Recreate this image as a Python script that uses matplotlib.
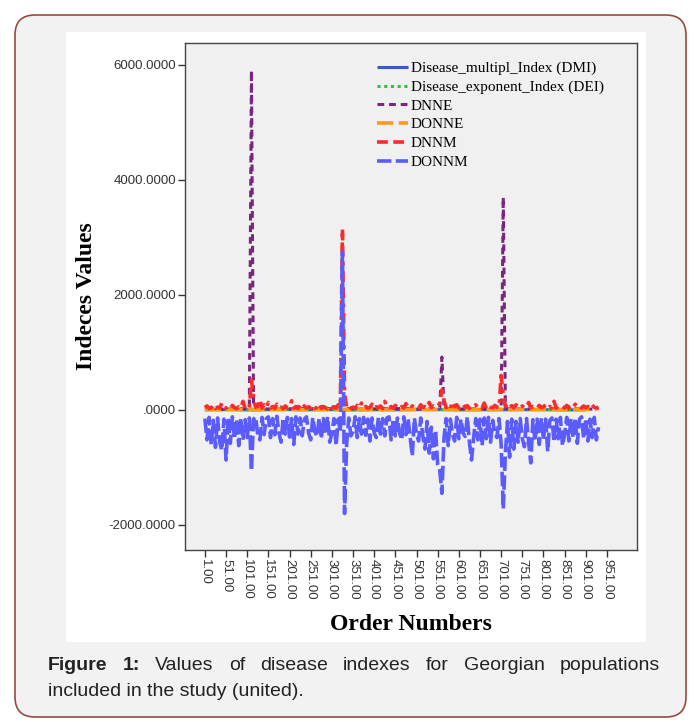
import matplotlib
matplotlib.use('Agg')
import matplotlib.pyplot as plt
from matplotlib.patches import FancyBboxPatch, Rectangle

# ---------------------------------------------------------------- data
order_step5 = list(range(1, 932, 5))          # 187 order numbers

donnm = [-150, -520, -130, -600, -180, -650, -140, -560, -700, -160,
         -870, -130, -580, -120, -500, -160, -620, -140, -520, -170,
         -480, -140, -1060, -160, -120, -450, -520, -130, -430, -150,
         -120, -480, -150, -430, -110, -400, -560, -140, -420, -130,
         -470, -150, -600, -120, -420, -140, -450, -160, -120, -400,
         -520, -130, -380, -460, -140, -500, -150, -420, -120, -560,
         -400, -150, -620, -160, -380, 2750, -1800, -580, -140, -450,
         -380, -120, -480, -150, -420, -130, -440, -160, -540, -140,
         -400, -480, -130, -420, -150, -450, -140, -120, -520, -160,
         -450, -140, -400, -520, -120, -430, -150, -470, -800, -140,
         -420, -540, -140, -460, -680, -200, -750, -300, -850, -350,
         -950, -1050, -1450, -480, -150, -620, -160, -420, -540, -130,
         -500, -160, -400, -460, -120, -560, -870, -480, -150, -520,
         -160, -620, -140, -500, -130, -560, -180, -400, -480, -150,
         -600, -1720, -750, -200, -820, -160, -680, -200, -560, -150,
         -500, -640, -150, -580, -920, -170, -540, -160, -600, -140,
         -520, -160, -720, -180, -140, -560, -160, -500, -130, -620,
         -420, -130, -540, -150, -480, -140, -580, -160, -120, -500,
         -150, -540, -160, -480, -130, -520, -300]

dnnm = [40, 70, 20, 35, 90, 25, 50, 30, 120, 45,
        30, 60, 25, 80, 40, 20, 55, 35, 150, 30,
        60, 40, 520, 200, 45, 70, 180, 30, 90, 40,
        130, 35, 60, 25, 100, 40, 50, 20, 70, 35,
        45, 160, 30, 60, 25, 90, 40, 70, 30, 55,
        35, 80, 25, 50, 110, 30, 60, 40, 20, 75,
        40, 55, 30, 90, 60, 3150, 300, 40, 70, 30,
        50, 25, 80, 40, 120, 35, 60, 30, 45, 100,
        30, 55, 40, 70, 25, 150, 45, 35, 60, 30,
        80, 40, 25, 60, 35, 110, 45, 30, 70, 40,
        55, 30, 90, 45, 60, 35, 130, 40, 70, 50,
        60, 120, 350, 160, 40, 80, 30, 140, 55, 90,
        35, 60, 100, 40, 75, 30, 55, 45, 90, 35,
        60, 40, 120, 30, 70, 45, 35, 80, 50, 40,
        600, 250, 60, 100, 40, 75, 35, 90, 50, 30,
        70, 40, 55, 130, 35, 60, 45, 30, 80, 40,
        55, 90, 35, 60, 40, 150, 30, 70, 45, 55,
        35, 80, 40, 60, 30, 100, 45, 55, 35, 70,
        40, 60, 30, 85, 45, 35, 50]

dnne_order = [1, 51, 101, 106, 111, 116, 121, 171, 221, 271, 321, 371, 421,
              471, 521, 551, 556, 561, 566, 571, 621, 671, 696, 701, 706,
              711, 716, 766, 816, 866, 916, 931]
dnne = [20, 15, 25, 30, 5900, 40, 20, 15, 25, 20, 30, 15, 20,
        25, 15, 20, 30, 920, 35, 20, 15, 25, 20, 30, 3700,
        40, 20, 15, 25, 20, 15, 20]

order_step25 = list(range(1, 932, 25))        # 38 order numbers
donne = [8, 10, 6, 12, 9, 7, 11, 8, 10, 6, 9, 12, 7, 10, 8, 11, 9, 6, 10,
         8, 12, 7, 9, 11, 8, 10, 6, 9, 12, 7, 10, 8, 11, 9, 7, 10, 8, 9]

order_step50 = list(range(1, 932, 50))        # 19 order numbers
dmi = [3, 5, 2, 4, 6, 3, 5, 2, 4, 3, 5, 6, 2, 4, 3, 5, 4, 2, 3]
dei = [6, 9, 4, 8, 10, 5, 9, 4, 7, 6, 8, 10, 5, 7, 6, 9, 8, 4, 6]

x_ticks = list(range(1, 952, 50))
x_tick_labels = ['%d.00' % v for v in x_ticks]
y_ticks = [-2000, 0, 2000, 4000, 6000]
y_tick_labels = ['-2000.0000', '.0000', '2000.0000', '4000.0000', '6000.0000']

# ---------------------------------------------------------------- figure
fig = plt.figure(figsize=(7, 7.22), dpi=100)
fig.patch.set_facecolor('white')

outer = FancyBboxPatch((0.15, 0.05), 6.71, 7.02,
                       boxstyle='round,pad=0,rounding_size=0.2',
                       transform=fig.dpi_scale_trans,
                       fc='#f2f2f2', ec='#9a4a3c', lw=1.2, zorder=-2)
fig.patches.append(outer)
panel = Rectangle((0.66, 0.80), 5.80, 6.10, transform=fig.dpi_scale_trans,
                  fc='white', ec='none', zorder=-1)
fig.patches.append(panel)

ax = fig.add_axes([185 / 700, 172 / 722, 452 / 700, 507 / 722])
ax.set_zorder(2)
ax.set_facecolor('#f0f0f0')

lw = 2.2
ax.plot(order_step50, dmi, color='#3a5bc7', lw=lw, solid_capstyle='butt',
        label='Disease_multipl_Index (DMI)')
ax.plot(order_step50, dei, color='#33c13a', lw=lw, dashes=(1, 1.2),
        label='Disease_exponent_Index (DEI)')
ax.plot(dnne_order, dnne, color='#7a2580', lw=lw, dashes=(2.2, 1.6),
        label='DNNE')
ax.plot(order_step25, donne, color='#ff9a1e', lw=2.6, dashes=(4.5, 1.5),
        label='DONNE')
ax.plot(order_step5, dnnm, color='#ff2a2a', lw=2.6, dashes=(3, 1.5, 3, 1.5, 1, 1.5),
        label='DNNM')
ax.plot(order_step5, donnm, color='#5a5cff', lw=2.6, dashes=(4, 1.2),
        label='DONNM')

ax.set_xlim(-46, 1022)
ax.set_ylim(-2435, 6380)
ax.set_xticks(x_ticks)
ax.set_xticklabels(x_tick_labels, rotation=270, ha='center', va='top',
                   fontsize=9.5, family='Liberation Sans', color='#333333')
ax.set_yticks(y_ticks)
ax.set_yticklabels(y_tick_labels, fontsize=9.5, family='Liberation Sans',
                   color='#333333')
ax.tick_params(length=5, width=1, color='#333333', pad=1.5)
for sp in ax.spines.values():
    sp.set_color('#444444')
    sp.set_linewidth(1)

leg = ax.legend(loc='upper left', bbox_to_anchor=(0.425, 0.964), frameon=False,
                prop={'family': 'Liberation Serif', 'size': 11},
                handlelength=2.0, handletextpad=0.2, labelspacing=0.33,
                borderaxespad=0, borderpad=0)

fig.text(87 / 700, 1 - 296 / 722, 'Indeces Values', rotation=90,
         ha='center', va='center', fontsize=17, fontweight='bold',
         family='Liberation Serif')
fig.text(411 / 700, 1 - 625 / 722, 'Order Numbers', ha='center',
         va='center', fontsize=17, fontweight='bold', family='Liberation Serif')

# caption, first line justified
renderer = fig.canvas.get_renderer()
words = [('Figure', 'bold'), ('1:', 'bold'), ('Values', 'normal'),
         ('of', 'normal'), ('disease', 'normal'), ('indexes', 'normal'),
         ('for', 'normal'), ('Georgian', 'normal'), ('populations', 'normal')]
left, right = 48, 660
texts = []
for w, fw in words:
    t = fig.text(0, 1 - 666 / 722, w, fontsize=14, fontweight=fw,
                 family='Liberation Sans', va='center', ha='left',
                 color='#222222')
    texts.append(t)
widths = [t.get_window_extent(renderer).width for t in texts]
gap = (right - left - sum(widths)) / (len(words) - 1)
xpos = left
for t, wdt in zip(texts, widths):
    t.set_x(xpos / 700)
    xpos += wdt + gap
fig.text(left / 700, 1 - 691 / 722, 'included in the study (united).',
         fontsize=14, family='Liberation Sans', va='center', ha='left',
         color='#222222')

fig.savefig('out.png', dpi=100)
